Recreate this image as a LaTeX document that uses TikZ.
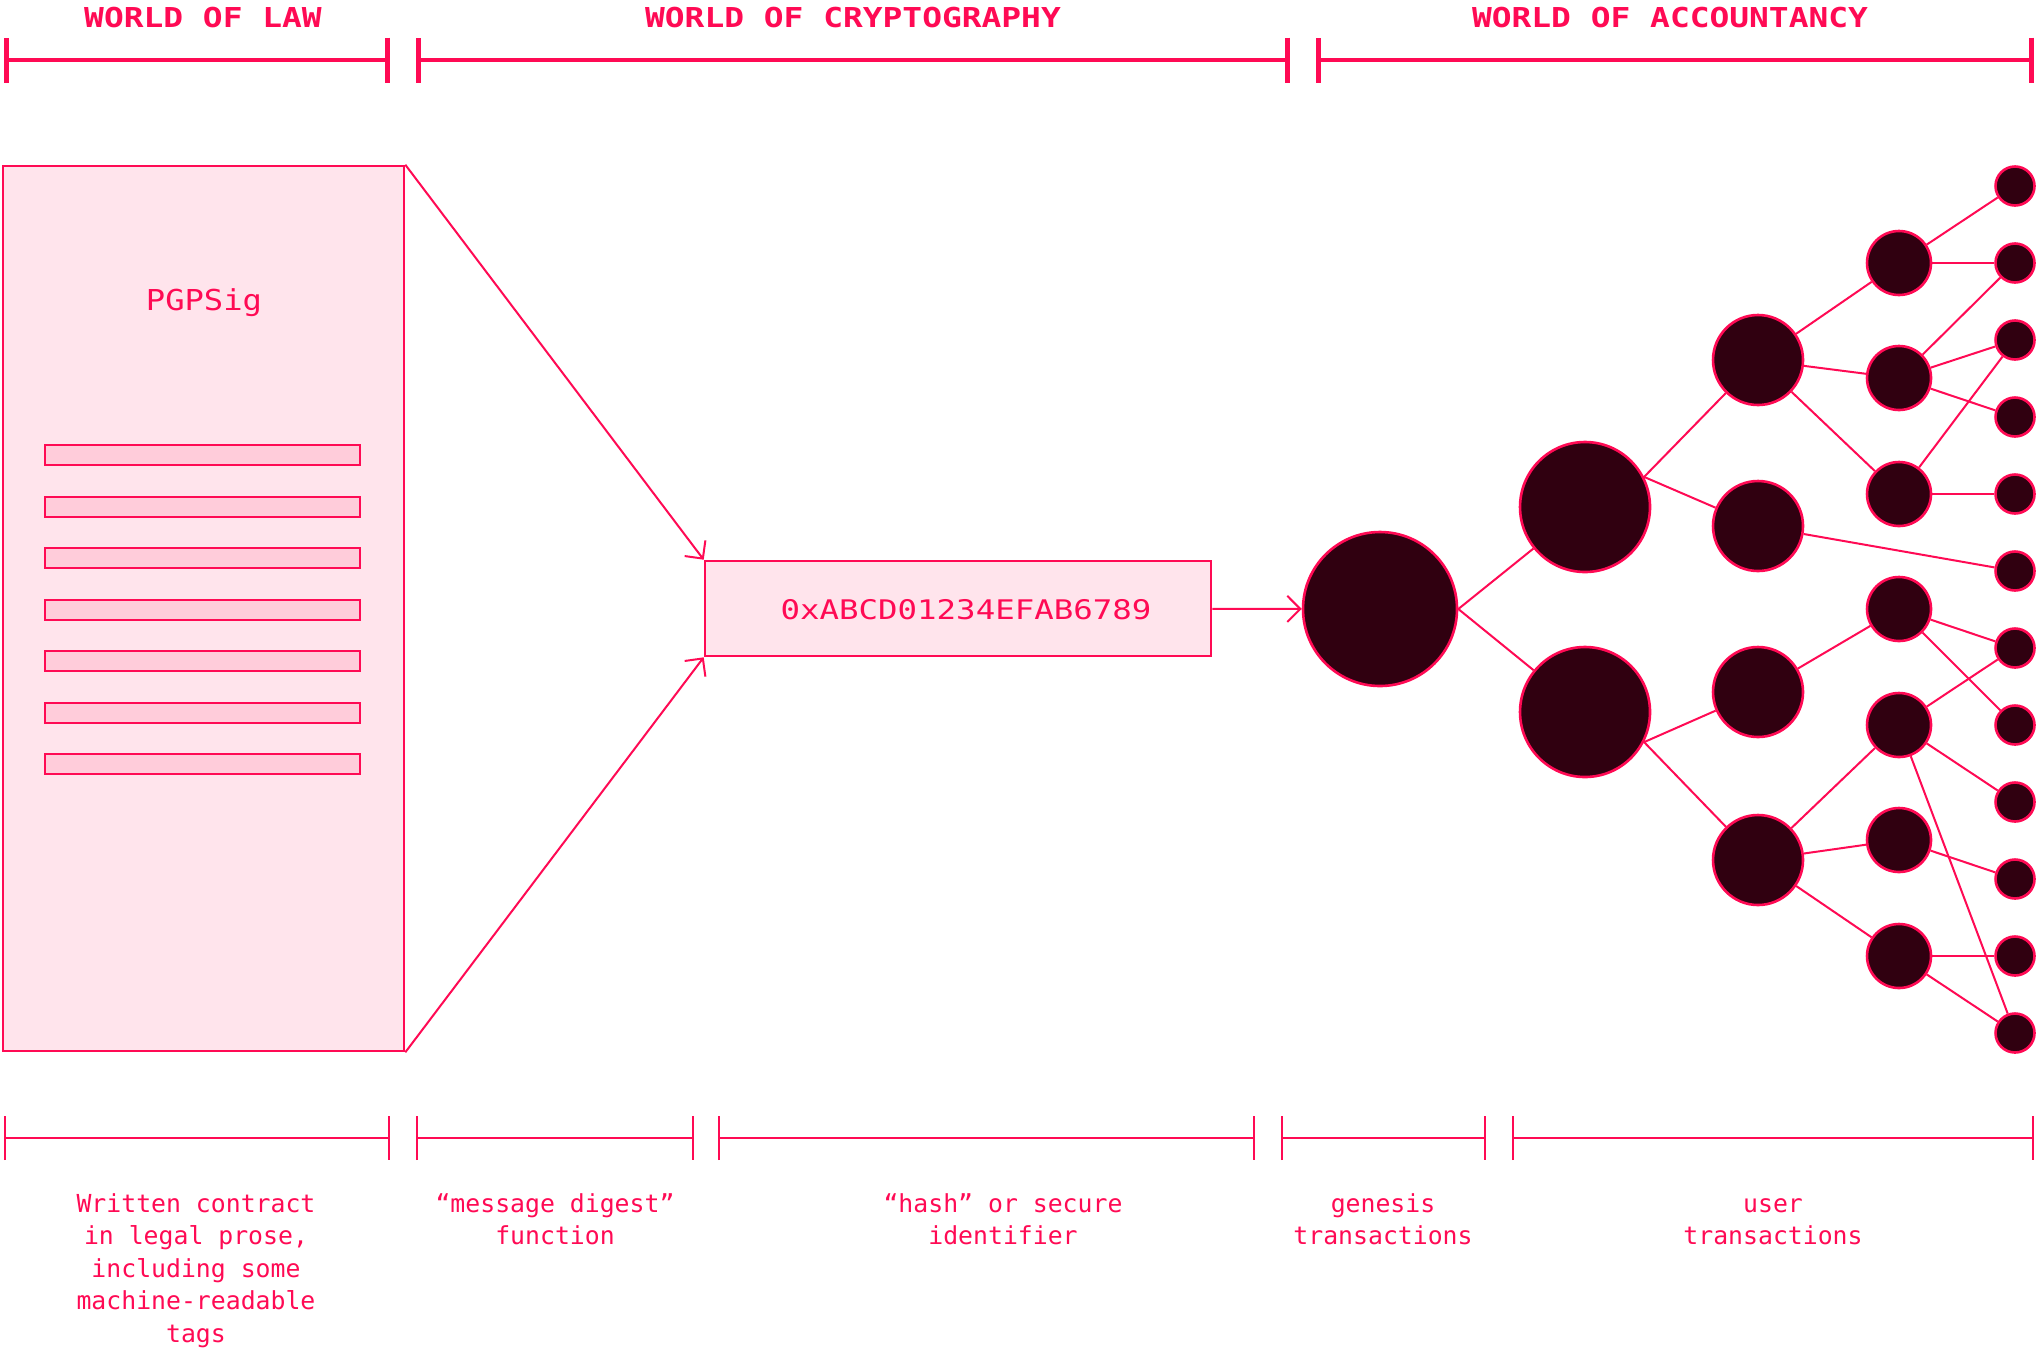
\documentclass[tikz,border=0pt]{standalone}
\usepackage{fontspec}
\setmonofont{DejaVu Sans Mono}
\newfontfamily\widemono[FakeStretch=1.2]{DejaVu Sans Mono}
\usepackage{tikz}
\usetikzlibrary{arrows.meta}

\definecolor{signal}{HTML}{FF0A54}
\definecolor{docpink}{HTML}{FFE4EC}
\definecolor{barpink}{HTML}{FFCCDA}
\definecolor{inkplum}{HTML}{300010}

\tikzset{
    txn/.style={circle, draw=signal, fill=inkplum, line width=1.3pt, inner sep=0pt},
    link/.style={signal, line width=1pt},
    feed/.style={signal, line width=1pt, -{Straight Barb[length=6.5pt, width=13pt]}},
    bigspan/.style={signal, line width=2pt, {Bar[width=22.5pt, line width=2.5pt]}-{Bar[width=22.5pt, line width=2.5pt]}},
    smallspan/.style={signal, line width=1pt, {Bar[width=22pt]}-{Bar[width=22pt]}},
    heading/.style={text=signal, font=\widemono\bfseries\fontsize{13.7}{16}\selectfont, anchor=base, inner sep=0pt},
    caption/.style={text=signal, font=\ttfamily\fontsize{12.4}{16.25}\selectfont, align=center, anchor=north, inner sep=0pt},
}

\begin{document}
\begin{tikzpicture}[x=0.5pt, y=-0.5pt]
            \useasboundingbox (0, 0) rectangle (2037, 1350);

            \foreach \a/\b in {4/390, 416/1290, 1316/2034}
                \draw[bigspan] (\a, 60) -- (\b, 60);
            \node[heading] (law) at (203, 27) {WORLD OF LAW};
            \node[heading] (crypto) at (853, 27) {WORLD OF CRYPTOGRAPHY};
            \node[heading] (acct) at (1670, 27) {WORLD OF ACCOUNTANCY};

            \node[draw=signal, fill=docpink, line width=1.3pt, minimum width=200.5pt, minimum height=442.5pt, inner sep=0pt] (contract) at (203.5, 608.5) {};
            \node[text=signal, font=\widemono\fontsize{14.4}{16}\selectfont, anchor=base, inner sep=0pt, xscale=0.93] (pgp) at (204, 310) {PGPSig};
            \foreach \y in {455, 506.5, ..., 765}
                \draw[signal, fill=barpink, line width=1pt] (45, \y-10) rectangle (360, \y+10);

            \node[draw=signal, fill=docpink, line width=1.3pt, minimum width=253pt, minimum height=47.5pt] (hash) at (958, 608.5) {};
            \node[text=signal, font=\widemono\fontsize{13.5}{16}\selectfont, inner sep=0pt] (hashid) at (966, 609.5) {0xABCD01234EFAB6789};
            \draw[feed] (contract.north east) -- (hash.north west);
            \draw[feed] (contract.south east) -- (hash.south west);

            \node[txn, minimum size=77pt] (G) at (1380, 609) {};
            \node[txn, minimum size=65pt] (A1) at (1585, 507) {};
            \node[txn, minimum size=65pt] (A2) at (1585, 712) {};
            \foreach \y [count=\i] in {360, 526, 692, 860}
                \node[txn, minimum size=45pt] (B\i) at (1758, \y) {};
            \foreach \y [count=\i] in {263, 378, 494, 609, 725, 840, 956}
                \node[txn, minimum size=32pt] (C\i) at (1899, \y) {};
            \foreach \i in {1, ..., 12}
                \node[txn, minimum size=19.5pt] (D\i) at (2015, 186 + 77*\i - 77) {};
            \draw[feed] (hash) -- (G);
            \draw[link] (G.east) -- (A1);
            \draw[link] (G.east) -- (A2);
            \draw[link] (A1.27) -- (B1);
            \draw[link] (A1.27) -- (B2);
            \draw[link] (A2.-27) -- (B3);
            \draw[link] (A2.-27) -- (B4);
            \foreach \a/\b in {B1/C1, B1/C2, B1/C3, B2/D6, B3/C4, B4/C5, B4/C6, B4/C7, C1/D1, C1/D2, C2/D2, C2/D3, C2/D4, C3/D3, C3/D5, C4/D7, C4/D8, C5/D7, C5/D9, C5/D12, C6/D10, C7/D11, C7/D12}
                \draw[link] (\a) -- (\b);

            \foreach \a/\b in {4/390, 416/694, 718/1255, 1281/1486, 1512/2034}
                \draw[smallspan] (\a, 1138) -- (\b, 1138);
            \node[caption] (prose) at (196, 1189) {\strut Written contract\\in legal prose,\\including some\\machine-readable\\tags};
            \node[caption] (digest) at (555, 1189) {\strut “message digest”\\function};
            \node[caption] (ident) at (1003, 1189) {\strut “hash” or secure\\identifier};
            \node[caption] (genesis) at (1383, 1189) {\strut genesis\\transactions};
            \node[caption] (user) at (1773, 1189) {\strut user\\transactions};
        \end{tikzpicture}
\end{document}
